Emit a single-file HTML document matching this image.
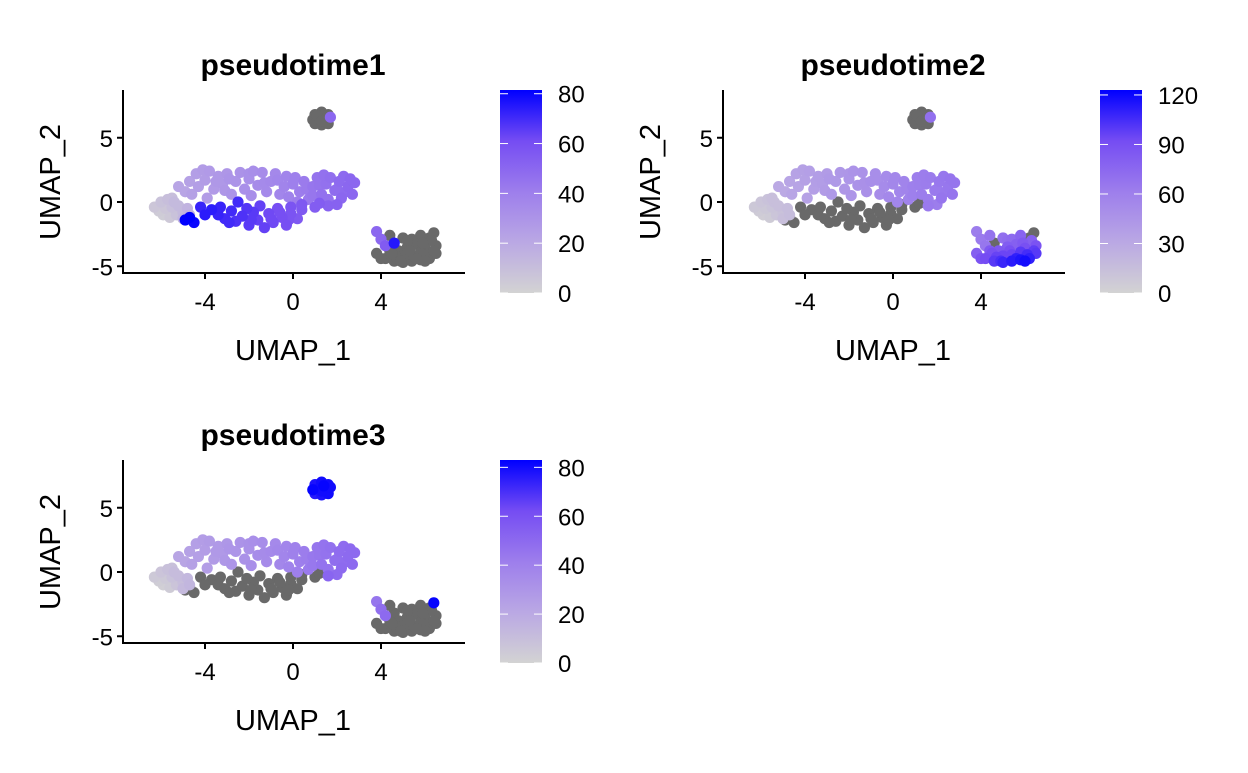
<!DOCTYPE html>
<html><head><meta charset="utf-8"><style>
body{margin:0;background:#fff;}
svg text{font-family:"Liberation Sans",Arial,sans-serif;}
</style></head><body>
<svg id="chart" width="1248" height="768" xmlns="http://www.w3.org/2000/svg">
<defs></defs>
</svg>
<script>
// ---- cell groups: UMAP coords and pseudotime values (null = NA) ----
const topX=[1.0,1.3,1.6,0.9,1.2,1.5,1.0,1.3,1.6,1.4,1.1,1.3,1.7];
const topY=[6.8,7.0,6.8,6.4,6.5,6.4,6.1,6.0,6.1,6.7,6.7,6.3,6.6];
const topV1=[null,null,null,null,null,null,null,null,null,null,null,null,50];
const topV2=[null,null,null,null,null,null,null,null,null,null,null,null,70];
const topV3=[78,80,80,82,80,78,76,78,80,82,78,80,80];

const leftX=[-6.3,-6.0,-5.7,-5.4,-6.1,-5.8,-5.5,-5.2,-5.9,-5.6,-5.3,-5.0,-4.8,-5.5,-5.0,-4.7];
const leftY=[-0.4,0.0,0.2,0.0,-0.7,-0.5,-0.4,-0.3,-1.0,-1.2,-1.0,-0.8,-0.5,0.3,-1.3,-1.0];
const leftV1=[6,8,10,12,4,6,9,12,3,5,8,12,15,10,14,16];
const leftV2=[8,10,12,14,6,8,11,14,4,6,10,12,16,14,14,16];
const leftV3=[5,7,9,11,3,5,8,11,2,4,7,10,13,9,12,14];

const arcX=[-5.2,-4.9,-4.7,-4.4,-4.1,-3.8,-4.3,-4.0,-3.6,-3.4,-3.2,-3.0,-2.8,-2.6,-2.4,-2.2,-2.0,-1.8,-1.6,-1.4,-1.2,-1.0,-0.8,-0.6,-0.4,-0.2,0.0,0.3,0.5,0.7,0.9,1.1,1.3,1.5,1.7,1.9,2.1,2.3,2.5,2.7,2.8,2.2,
 -4.6,-3.9,-3.5,-3.1,-2.9,-2.0,-1.9,-1.3,-0.7,-0.3,0.2,0.6,0.9,1.2,1.6,2.0,2.4,2.6,1.4,0.1];
const arcY=[1.2,0.8,1.6,2.2,2.5,2.4,1.2,1.7,1.0,2.0,1.4,2.2,0.6,1.6,2.3,1.0,1.8,2.4,1.3,2.3,0.8,1.6,2.2,0.6,1.2,0.4,1.4,0.8,1.6,0.2,1.2,1.9,0.6,1.4,1.9,0.9,1.6,2.0,1.2,0.6,1.5,0.3,
 0.6,0.3,1.6,0.9,1.8,2.2,0.5,1.5,1.7,2.0,0.0,1.0,0.5,1.3,0.2,1.0,0.8,1.8,2.1,1.9];
const arcV1=[22,22,24,25,26,27,25,26,27,28,28,29,30,30,31,32,32,33,34,34,35,36,36,37,38,39,40,41,42,43,44,45,46,46,47,48,49,49,50,50,50,50,
 24,26,28,29,30,32,33,35,37,38,41,42,44,45,46,48,49,50,46,40];
const arcV2=[30,30,33,35,36,37,34,36,37,39,39,40,42,42,43,44,45,46,47,47,48,50,50,51,52,54,55,56,57,58,60,61,62,62,63,64,65,66,66,67,67,67,
 33,36,38,40,42,44,45,48,50,52,56,57,60,61,62,64,65,67,62,55];
const arcV3=[22,22,24,25,26,27,25,26,27,28,28,29,30,30,31,32,32,33,34,34,35,36,36,37,38,39,40,41,42,43,44,45,46,46,47,48,49,49,50,50,50,50,
 24,26,28,29,30,32,33,35,37,38,41,42,44,45,46,48,49,50,46,40];

const midX=[1.6,1.0,0.4,-0.1,1.2,2.0];
const midY=[-0.3,-0.4,-0.6,-0.4,-0.1,-0.2];
const midV1=[52,54,56,58,54,52];
const midV2=[64,null,null,null,null,62];
const midV3=[52,null,null,null,null,50];

const bandX=[-4.7,-4.9,-4.5,-4.2,-3.7,-3.4,-3.1,-2.8,-2.6,-2.3,-2.0,-1.8,-1.6,-1.3,-1.1,-0.9,-0.7,-0.5,-0.3,-0.1,0.2,0.4,-1.5,-2.5,-3.3,-2.9,-2.1,-1.9,-1.0,-0.6,-0.2,-4.0];
const bandY=[-1.2,-1.4,-1.6,-0.4,-0.6,-1.0,-1.3,-0.7,-1.5,-1.1,-1.8,-0.8,-1.4,-2.0,-0.9,-1.6,-0.5,-1.2,-1.8,-0.9,-1.3,-0.2,-0.3,0.0,-0.4,-1.6,-0.5,-1.4,-1.3,-0.8,-1.4,-1.0];
const bandV1=[82,82,80,72,74,72,70,70,68,68,66,66,64,64,62,62,60,60,60,58,56,56,64,70,72,70,67,66,62,60,58,74];
const bandV2=[null,null,null,null,null,null,null,null,null,null,null,null,null,null,null,null,null,null,null,null,null,null,null,null,null,null,null,null,null,null,null,null];
const bandV3=[null,null,null,null,null,null,null,null,null,null,null,null,null,null,null,null,null,null,null,null,null,null,null,null,null,null,null,null,null,null,null,null];

const brX=[3.8,4.0,4.2,3.8,4.2,4.6,5.0,5.4,5.8,6.2,6.5,6.5,6.2,6.4,5.8,5.4,5.0,4.6,4.8,5.2,5.6,6.0,5.4,5.0,5.8,6.3,4.4,4.7,6.1,4.4,5.2,5.6,6.0,4.0,5.9,4.9,6.4,5.3,4.5];
const brY=[-2.3,-2.9,-3.4,-4.0,-4.4,-4.6,-4.7,-4.6,-4.5,-4.4,-4.0,-3.4,-2.8,-2.4,-2.6,-2.9,-2.8,-3.2,-3.8,-3.5,-3.3,-3.6,-4.1,-4.2,-3.9,-3.0,-3.8,-4.3,-4.1,-2.6,-3.0,-4.4,-4.6,-4.4,-3.2,-4.6,-3.8,-3.8,-4.0];
const brV1=[50,50,55,null,null,null,null,null,null,null,null,null,null,null,null,null,null,75,null,null,null,null,null,null,null,null,null,null,null,null,null,null,null,null,null,null,null,null,null];
const brV2=[62,64,66,80,92,100,108,112,115,110,100,88,null,null,78,74,70,null,85,82,80,90,95,95,100,80,84,96,105,68,72,110,118,88,84,104,98,90,90];
const brV3=[45,48,50,null,null,null,null,null,null,null,null,null,null,82,null,null,null,null,null,null,null,null,null,null,null,null,null,null,null,null,null,null,null,null,null,null,null,null,null];

const umapX=[].concat(topX,leftX,arcX,midX,bandX,brX);
const umapY=[].concat(topY,leftY,arcY,midY,bandY,brY);
const pt1=[].concat(topV1,leftV1,arcV1,midV1,bandV1,brV1);
const pt2=[].concat(topV2,leftV2,arcV2,midV2,bandV2,brV2);
const pt3=[].concat(topV3,leftV3,arcV3,midV3,bandV3,brV3);
const titles=["pseudotime1","pseudotime2","pseudotime3"];
const maxVals=[81.5,123,83];
const xTicks=[-4,0,4];
const yTicks=[5,0,-5];
const legendTicks=[[0,20,40,60,80],[0,30,60,90,120],[0,20,40,60,80]];

const NS="http://www.w3.org/2000/svg";
const svg=document.getElementById('chart');
function el(tag,attrs,parent){const e=document.createElementNS(NS,tag);for(const k in attrs)e.setAttribute(k,attrs[k]);(parent||svg).appendChild(e);return e;}
const stops=[[211,211,211],[186,168,228],[157,126,236],[117,76,243],[0,0,255]];
function colorFor(t){t=Math.max(0,Math.min(1,t));const s=t*4;const i=Math.min(3,Math.floor(s));const f=s-i;const a=stops[i],b=stops[i+1];
 return 'rgb('+a.map((v,k)=>Math.round(v+(b[k]-v)*f)).join(',')+')';}
const offsets=[[0,0],[600,0],[0,370]];
const series=[pt1,pt2,pt3];
offsets.forEach((off,p)=>{
 const dx=off[0],dy=off[1];
 const sx=x=>293+dx+x*22, sy=y=>202+dy-y*12.85;
 const g=el('g',{});
 
 
 const t=el('text',{x:293+dx,y:75+dy,'text-anchor':'middle','font-size':30,'font-weight':'bold',fill:'#000'},g);
 t.textContent=titles[p];
 
 
 const vals=series[p];
 const order=[...vals.keys()].sort((a,b)=>(vals[a]===null?-1:vals[a])-(vals[b]===null?-1:vals[b]));
 order.forEach(i=>{
  const v=vals[i];
  const c=el('circle',{cx:sx(umapX[i]),cy:sy(umapY[i]),r:5.6,fill:v===null?'#696969':colorFor(v/maxVals[p])},g);
  
  
 });
 const ax=el('path',{d:`M${123+dx},${90+dy} V${273+dy} H${465+dx}`,stroke:'#000','stroke-width':2,fill:'none'},g);
 
 
 xTicks.forEach(v=>{
  el('line',{x1:sx(v),x2:sx(v),y1:273+dy,y2:279+dy,stroke:'#000','stroke-width':2},g);
  const tl=el('text',{x:sx(v),y:310+dy,'text-anchor':'middle','font-size':24,fill:'#000'},g);
  tl.textContent=v;
  
  
 });
 yTicks.forEach(v=>{
  el('line',{x1:117+dx,x2:123+dx,y1:sy(v),y2:sy(v),stroke:'#000','stroke-width':2},g);
  const tl=el('text',{x:113+dx,y:sy(v)+9,'text-anchor':'end','font-size':24,fill:'#000'},g);
  tl.textContent=v;
  
  
 });
 const xt=el('text',{x:293+dx,y:360+dy,'text-anchor':'middle','font-size':29,fill:'#000'},g);
 xt.textContent='UMAP_1';
 
 
 const yt=el('text',{x:0,y:0,'text-anchor':'middle','font-size':29,fill:'#000',transform:`translate(${60+dx},${182+dy}) rotate(-90)`},g);
 yt.textContent='UMAP_2';
 
 
 const gid='grad'+p;
 const lg=el('linearGradient',{id:gid,x1:0,y1:1,x2:0,y2:0},svg.querySelector('defs'));
 stops.forEach((s,k)=>el('stop',{offset:k/4,'stop-color':'rgb('+s.join(',')+')'},lg));
 const bar=el('rect',{x:500+dx,y:90+dy,width:42,height:203,fill:`url(#${gid})`},g);
 
 
 const ly=v=>293+dy-v/maxVals[p]*203;
 legendTicks[p].forEach(v=>{
  el('line',{x1:500+dx,x2:508+dx,y1:ly(v),y2:ly(v),stroke:'#fff','stroke-width':1},g);
  el('line',{x1:534+dx,x2:542+dx,y1:ly(v),y2:ly(v),stroke:'#fff','stroke-width':1},g);
  const tl=el('text',{x:558+dx,y:ly(v)+9,'font-size':24,fill:'#000'},g);
  tl.textContent=v;
  
  
 });
});
</script>
</body></html>
